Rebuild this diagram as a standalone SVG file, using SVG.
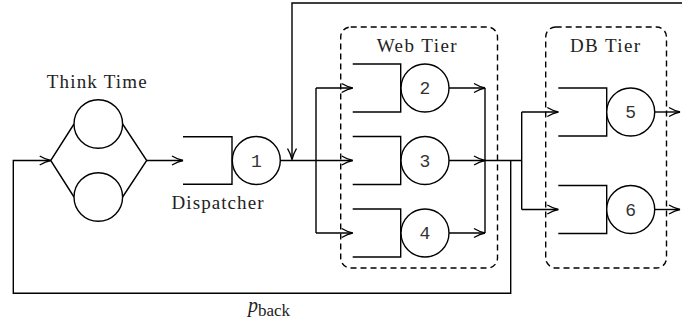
<svg xmlns="http://www.w3.org/2000/svg" width="682" height="325" viewBox="0 0 682 325">
  <style>
    .ln { fill: none; stroke: #000; stroke-width: 1.4; }
    .ar { fill: none; stroke: #000; stroke-width: 1.4; marker-end: url(#arr); }
    .st { fill: #fff; stroke: #000; stroke-width: 1.4; }
    .tier { fill: none; stroke: #000; stroke-width: 1.4; stroke-dasharray: 6 4; }
    .lbl { font-family: "Liberation Serif", "DejaVu Serif", serif; font-size: 19px; fill: #222; }
    .num { font-family: "Liberation Mono", "DejaVu Sans Mono", monospace; font-size: 18px; fill: #333; text-anchor: middle; }
  </style>
  <defs>
    <marker id="arr" markerUnits="userSpaceOnUse" markerWidth="14" markerHeight="12" viewBox="-12 -6 14 12" refX="0" refY="0" orient="auto">
      <path d="M-11,-4.5 Q-5,-1 0,0 Q-5,1 -11,4.5" fill="none" stroke="#000" stroke-width="1.4"/>
    </marker>
  </defs>

  <!-- tier frames -->
  <g id="web-tier">
    <rect class="tier" x="340.7" y="27" width="156.8" height="241" rx="10"/>
    <text class="lbl" x="416.7" y="52" text-anchor="middle" textLength="80">Web Tier</text>
  </g>
  <g id="db-tier">
    <rect class="tier" x="545.7" y="27" width="120.8" height="241" rx="10"/>
    <text class="lbl" x="605" y="52" text-anchor="middle" textLength="70">DB Tier</text>
  </g>

  <!-- connectors -->
  <g id="connectors">
    <!-- feedback from the right along the top -->
    <path class="ar" d="M682,3 H292 V159.5"/>
    <!-- delay station to dispatcher -->
    <path class="ar" d="M146.7,160.5 H183"/>
    <!-- dispatcher to web tier -->
    <path class="ln" d="M280.3,160.5 H316"/>
    <path class="ar" d="M316,88 V233 M316,88 H352.7"/>
    <path class="ar" d="M316,160.5 H352.7"/>
    <path class="ar" d="M316,233 H352.7"/>
    <!-- web tier outputs -->
    <path class="ar" d="M449,88 H485"/>
    <path class="ar" d="M449,160.5 H485"/>
    <path class="ar" d="M449,233 H485"/>
    <path class="ln" d="M485,88 V233"/>
    <!-- join to db tier -->
    <path class="ln" d="M485,160.5 H521.7"/>
    <path class="ln" d="M521.7,112 V209.5"/>
    <path class="ar" d="M521.7,112 H558.3"/>
    <path class="ar" d="M521.7,209.5 H558.3"/>
    <!-- db outputs -->
    <path class="ar" d="M654.7,112 H680"/>
    <path class="ar" d="M654.7,209.5 H680"/>
    <!-- p_back loop back to the think station -->
    <path class="ar" d="M510.7,160.5 V293.3 H13.3 V160.5 H50.7"/>
  </g>

  <!-- think time (delay) station -->
  <g id="think-time">
    <path class="ln" d="M74,124 L50.7,160.5 L74,197 M122.6,124 L146.7,160.5 L122.6,197"/>
    <circle class="st" cx="98.3" cy="124" r="24.3"/>
    <circle class="st" cx="98.3" cy="197" r="24.3"/>
    <text class="lbl" x="96.7" y="88" text-anchor="middle" textLength="100">Think Time</text>
  </g>

  <!-- dispatcher -->
  <g id="dispatcher">
    <path class="ln" d="M183,136.7 H232 V184.3 H183"/>
    <circle class="st" cx="256.3" cy="160.5" r="24"/>
    <text class="num" x="256.3" y="166.5">1</text>
    <text class="lbl" x="217.5" y="209" text-anchor="middle" textLength="92">Dispatcher</text>
  </g>

  <!-- web servers -->
  <g id="web-2">
    <path class="ln" d="M352.7,64 H400.7 V112 H352.7"/>
    <circle class="st" cx="425" cy="88" r="24"/>
    <text class="num" x="425" y="94">2</text>
  </g>
  <g id="web-3">
    <path class="ln" d="M352.7,136.5 H400.7 V184.5 H352.7"/>
    <circle class="st" cx="425" cy="160.5" r="24"/>
    <text class="num" x="425" y="166.5">3</text>
  </g>
  <g id="web-4">
    <path class="ln" d="M352.7,209 H400.7 V257 H352.7"/>
    <circle class="st" cx="425" cy="233" r="24"/>
    <text class="num" x="425" y="239">4</text>
  </g>

  <!-- db servers -->
  <g id="db-5">
    <path class="ln" d="M558.3,88 H606.7 V136 H558.3"/>
    <circle class="st" cx="630.7" cy="112" r="24"/>
    <text class="num" x="630.7" y="118">5</text>
  </g>
  <g id="db-6">
    <path class="ln" d="M558.3,185.5 H606.7 V233.5 H558.3"/>
    <circle class="st" cx="630.7" cy="209.5" r="24"/>
    <text class="num" x="630.7" y="215.5">6</text>
  </g>

  <!-- loop probability -->
  <g id="p-back">
    <text x="248" y="312" style="font-family: 'Liberation Serif', 'DejaVu Serif', serif; font-size: 20px; font-style: italic; fill: #222;">p<tspan dy="4" style="font-style: normal; font-size: 17px;">back</tspan></text>
  </g>
</svg>
